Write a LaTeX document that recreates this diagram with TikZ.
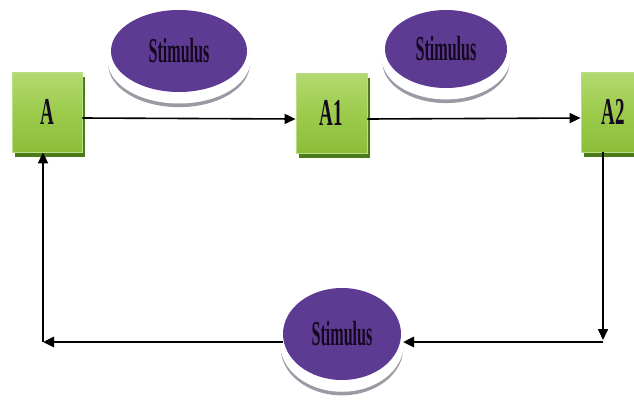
\documentclass[tikz,border=0pt]{standalone}
\usepackage{fontspec}
\setmainfont{Liberation Serif}
\usetikzlibrary{arrows.meta,shadows,shapes.geometric}

\definecolor{boxtop}{HTML}{B2DA72}
\definecolor{boxmid}{HTML}{9CCB4C}
\definecolor{boxbot}{HTML}{8CBE3A}
\definecolor{boxedge}{HTML}{B9DE84}
\definecolor{boxshade}{HTML}{4B7A1A}
\definecolor{stimfill}{HTML}{5E3B93}
\definecolor{rimgray}{HTML}{9C98A4}
\definecolor{inktext}{HTML}{14081E}

\tikzset{
  stage/.style={rectangle, minimum height=80pt, inner sep=0pt,
    top color=boxtop, bottom color=boxbot, middle color=boxmid,
    draw=boxedge, line width=0.8pt,
    copy shadow={shadow xshift=2.5pt, shadow yshift=-5pt, fill=boxshade, draw=none},
    font=\bfseries\fontsize{38}{38}\selectfont, text=inktext},
  stim/.style={ellipse, inner sep=0pt, fill=stimfill, draw=none,
    copy shadow={shadow xshift=0pt, shadow yshift=-13pt, shadow scale=1.04, fill=rimgray, draw=none},
    copy shadow={shadow xshift=0pt, shadow yshift=-9pt, shadow scale=1.05, fill=white, draw=none},
    font=\bfseries\fontsize{35}{35}\selectfont, text=inktext},
  flow/.style={draw=black, line width=1.6pt, -{Triangle[length=11pt,width=10pt]}},
  flowthick/.style={draw=black, line width=2.6pt, -{Triangle[length=11pt,width=10pt]}},
}

\begin{document}
\begin{tikzpicture}[x=1pt, y=-1pt]
  \useasboundingbox (0,0) rectangle (634,402);

  % stimulus buttons
  \node[stim, minimum width=136pt, minimum height=82pt] (s1) at (179,51) {\scalebox{0.46}[1]{Stimulus}};
  \node[stim, minimum width=122pt, minimum height=78pt] (s2) at (446,49) {\scalebox{0.46}[1]{Stimulus}};
  \node[stim, minimum width=118pt, minimum height=92pt] (s3) at (342,334) {\scalebox{0.46}[1]{Stimulus}};

  % stage boxes
  \node[stage, minimum width=70pt] (A)  at (47,112)  {\scalebox{0.5}[1]{A}};
  \node[stage, minimum width=71pt] (A1) at (331.5,113) {\scalebox{0.5}[1]{A1}};
  \node[stage, minimum width=64pt] (A2) at (613,112) {\scalebox{0.5}[1]{A2}};

  % corners of the return loop
  \coordinate (c1) at (603,340);
  \coordinate (c2) at (43,342);

  % forward chain
  \draw[flow] ([yshift=-6pt]A.east) -- ([yshift=-6pt]A1.west);
  \draw[flow] ([yshift=-6pt]A1.east) -- ([yshift=-6pt]A2.west);

  % return loop
  \draw[flow] (A2.south -| c1) -- (c1);
  \draw[flowthick] (c1 |- 0,342) -- (403,342);
  \draw[flowthick] (s3.west |- c2) -- (c2);
  \draw[draw=black, line width=1.8pt, -{Triangle[length=11pt,width=10pt]}] (c2) -- (A.south -| c2);
\end{tikzpicture}
\end{document}
